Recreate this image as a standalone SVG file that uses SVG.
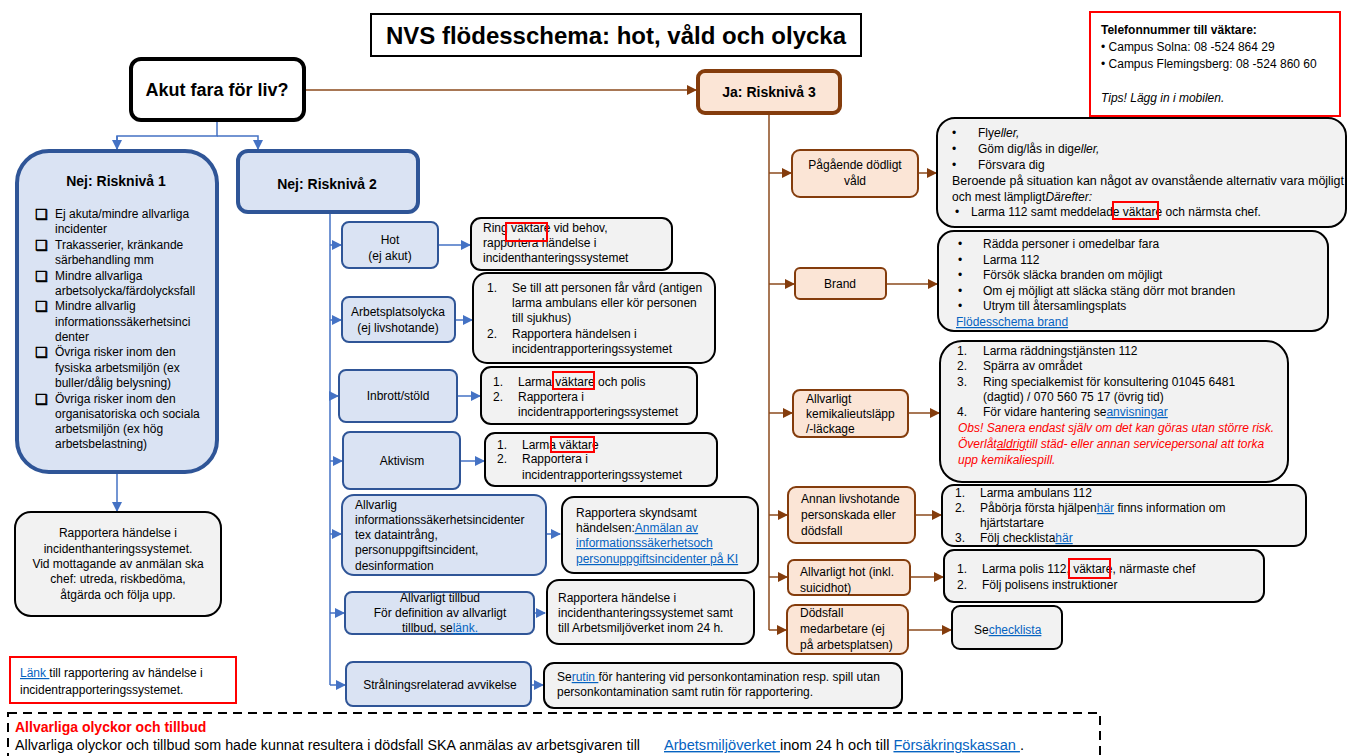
<svg xmlns="http://www.w3.org/2000/svg" width="1363" height="756" viewBox="0 0 1363 756">
<style>
text{font-family:"Liberation Sans",Arial,sans-serif;font-size:12px;fill:#000}
.b{font-weight:bold}
.c{text-anchor:middle}
.lnk{fill:#0563c1;text-decoration:underline}
.it{font-style:italic}
.red{fill:#ff0000}
.bl1{fill:#dae3f3;stroke:#2f5597;stroke-width:4}
.bl2{fill:#dae3f3;stroke:#2f5597;stroke-width:2}
.br1{fill:#fbe5d6;stroke:#843c0c;stroke-width:4}
.br2{fill:#fbe5d6;stroke:#843c0c;stroke-width:2}
.gr{fill:#f2f2f2;stroke:#000;stroke-width:2}
.rr{fill:none;stroke:#ff0000;stroke-width:2}
.cb{stroke:#4472c4;stroke-width:1.5;fill:none}
.cr{stroke:#8b4a1c;stroke-width:1.5;fill:none}
.chk{font-family:"DejaVu Sans",sans-serif;font-size:14px;font-weight:bold;stroke:#000;stroke-width:0.6}
</style>
<defs>
<marker id="ab" markerWidth="10" markerHeight="10" refX="9" refY="5" orient="auto" markerUnits="userSpaceOnUse"><path d="M0,0 L10,5 L0,10 Z" fill="#4472c4"/></marker>
<marker id="ar" markerWidth="10" markerHeight="10" refX="9" refY="5" orient="auto" markerUnits="userSpaceOnUse"><path d="M0,0 L10,5 L0,10 Z" fill="#843c0c"/></marker>
</defs>
<rect width="1363" height="756" fill="#fff"/>

<g id="connectors">
<path class="cr" d="M304,90 H696" marker-end="url(#ar)"/>
<path class="cb" d="M217,120 V136 H117 V149"/>
<path class="cb" d="M117,136 V149" marker-end="url(#ab)"/>
<path class="cb" d="M217,136 H258 V149" marker-end="url(#ab)"/>
<path class="cb" d="M117,473 V511" marker-end="url(#ab)"/>
<path class="cb" d="M330,212 V685"/>
<path class="cb" d="M330,245 H341" marker-end="url(#ab)"/>
<path class="cb" d="M330,320 H341" marker-end="url(#ab)"/>
<path class="cb" d="M330,396 H338" marker-end="url(#ab)"/>
<path class="cb" d="M330,461 H342" marker-end="url(#ab)"/>
<path class="cb" d="M330,534 H341" marker-end="url(#ab)"/>
<path class="cb" d="M330,613 H344" marker-end="url(#ab)"/>
<path class="cb" d="M330,685 H345" marker-end="url(#ab)"/>
<path class="cb" d="M438,245 H470" marker-end="url(#ab)"/>
<path class="cb" d="M455,320 H472" marker-end="url(#ab)"/>
<path class="cb" d="M457,396 H480" marker-end="url(#ab)"/>
<path class="cb" d="M460,461 H484" marker-end="url(#ab)"/>
<path class="cb" d="M546,534 H560" marker-end="url(#ab)"/>
<path class="cb" d="M534,613 H545" marker-end="url(#ab)"/>
<path class="cb" d="M531,685 H543" marker-end="url(#ab)"/>
<path class="cr" d="M769,113 V630"/>
<path class="cr" d="M769,173 H791" marker-end="url(#ar)"/>
<path class="cr" d="M769,284 H794" marker-end="url(#ar)"/>
<path class="cr" d="M769,413 H792" marker-end="url(#ar)"/>
<path class="cr" d="M769,515 H787" marker-end="url(#ar)"/>
<path class="cr" d="M769,577 H787" marker-end="url(#ar)"/>
<path class="cr" d="M769,630 H786" marker-end="url(#ar)"/>
<path class="cr" d="M918,173 H936" marker-end="url(#ar)"/>
<path class="cr" d="M886,284 H937" marker-end="url(#ar)"/>
<path class="cr" d="M908,413 H939" marker-end="url(#ar)"/>
<path class="cr" d="M915,515 H941" marker-end="url(#ar)"/>
<path class="cr" d="M910,577 H943" marker-end="url(#ar)"/>
<path class="cr" d="M908,630 H951" marker-end="url(#ar)"/>
</g>

<g id="title">
<rect x="371" y="14" width="490" height="42" fill="#fff" stroke="#000" stroke-width="2"/>
<text x="616" y="44" class="b c" style="font-size:24px">NVS flödesschema: hot, våld och olycka</text>
</g>

<g id="phones">
<rect x="1090" y="12" width="250" height="104" fill="#fff" stroke="#ff0000" stroke-width="2"/>
<text x="1101" y="34" class="b" style="font-size:12px">Telefonnummer till väktare:</text>
<text x="1101" y="51" style="font-size:12px">• Campus Solna: 08  -524 864 29</text>
<text x="1101" y="68" style="font-size:12px">• Campus Flemingsberg: 08  -524 860 60</text>
<text x="1101" y="102" class="it" style="font-size:12px">Tips! Lägg in i mobilen.</text>
</g>

<g id="akut">
<rect x="131" y="59" width="173" height="61" rx="10" fill="#fff" stroke="#000" stroke-width="4"/>
<text x="217" y="96" class="b c" style="font-size:18px">Akut fara för liv?</text>
</g>

<g id="ja3">
<rect x="698" y="71" width="142" height="42" rx="7" class="br1"/>
<text x="769" y="97" class="b c" style="font-size:14px">Ja: Risknivå 3</text>
</g>

<g id="nej1">
<rect x="17" y="151" width="200" height="321" rx="32" class="bl1"/>
<text x="116" y="186" class="b c" style="font-size:14px">Nej: Risknivå 1</text>
<text x="35" y="219" class="chk">❑</text><text x="55" y="218">Ej akuta/mindre allvarliga</text>
<text x="55" y="233">incidenter</text>
<text x="35" y="250" class="chk">❑</text><text x="55" y="249">Trakasserier, kränkande</text>
<text x="55" y="264">särbehandling mm</text>
<text x="35" y="281" class="chk">❑</text><text x="55" y="280">Mindre allvarliga</text>
<text x="55" y="295">arbetsolycka/färdolycksfall</text>
<text x="35" y="311" class="chk">❑</text><text x="55" y="310">Mindre allvarlig</text>
<text x="55" y="326">informationssäkerhetsinci</text>
<text x="55" y="341">denter</text>
<text x="35" y="357" class="chk">❑</text><text x="55" y="356">Övriga risker inom den</text>
<text x="55" y="372">fysiska arbetsmiljön (ex</text>
<text x="55" y="387">buller/dålig belysning)</text>
<text x="35" y="404" class="chk">❑</text><text x="55" y="403">Övriga risker inom den</text>
<text x="55" y="418">organisatoriska och sociala</text>
<text x="55" y="433">arbetsmiljön (ex hög</text>
<text x="55" y="448">arbetsbelastning)</text>
</g>

<g id="rapportera1">
<rect x="15" y="512" width="206" height="104" rx="16" class="gr"/>
<text x="118" y="537" class="c">Rapportera händelse i</text>
<text x="118" y="553" class="c">incidenthanteringssystemet.</text>
<text x="118" y="568" class="c">Vid mottagande av anmälan ska</text>
<text x="118" y="583" class="c">chef: utreda, riskbedöma,</text>
<text x="118" y="599" class="c">åtgärda och följa upp.</text>
</g>

<g id="lank">
<rect x="10" y="657" width="226" height="46" fill="#fff" stroke="#ff0000" stroke-width="2"/>
<text x="20" y="677"><tspan class="lnk">Länk </tspan> till rapportering av händelse i</text>
<text x="20" y="694">incidentrapporteringssystemet.</text>
</g>

<g id="nej2">
<rect x="238" y="151" width="180" height="61" rx="10" class="bl1"/>
<text x="327" y="189" class="b c" style="font-size:14px">Nej: Risknivå 2</text>
</g>

<g id="hot">
<rect x="342" y="222" width="96" height="46" rx="7" class="bl2"/>
<text x="390" y="244" class="c">Hot</text>
<text x="390" y="260" class="c">(ej akut)</text>
</g>
<g id="hot-r">
<rect x="471" y="218" width="201" height="52" rx="10" class="gr"/>
<text x="483" y="232">Ring väktare vid behov,</text>
<text x="483" y="247">rapportera händelse i</text>
<text x="483" y="262">incidenthanteringssystemet</text>
<rect x="506" y="223" width="41" height="18" class="rr"/>
</g>

<g id="arbetsplats">
<rect x="342" y="297" width="113" height="45" rx="7" class="bl2"/>
<text x="398" y="316" class="c">Arbetsplatsolycka</text>
<text x="398" y="332" class="c">(ej livshotande)</text>
</g>
<g id="arbetsplats-r">
<rect x="473" y="273" width="242" height="90" rx="14" class="gr"/>
<text x="487" y="292">1.</text><text x="512" y="292">Se till att personen får vård (antigen</text>
<text x="512" y="307">larma ambulans eller kör personen</text>
<text x="512" y="322">till sjukhus)</text>
<text x="487" y="338">2.</text><text x="512" y="338">Rapportera händelsen i</text>
<text x="512" y="353">incidentrapporteringssystemet</text>
</g>

<g id="inbrott">
<rect x="339" y="370" width="118" height="52" rx="7" class="bl2"/>
<text x="398" y="400" class="c">Inbrott/stöld</text>
</g>
<g id="inbrott-r">
<rect x="481" y="367" width="216" height="57" rx="10" class="gr"/>
<text x="493" y="386">1.</text><text x="518" y="386">Larma väktare och polis</text>
<text x="493" y="401">2.</text><text x="518" y="401">Rapportera i</text>
<text x="518" y="416">incidentrapporteringssystemet</text>
<rect x="553" y="372" width="41" height="17" class="rr"/>
</g>

<g id="aktivism">
<rect x="343" y="432" width="117" height="57" rx="7" class="bl2"/>
<text x="402" y="465" class="c">Aktivism</text>
</g>
<g id="aktivism-r">
<rect x="485" y="433" width="232" height="53" rx="10" class="gr"/>
<text x="497" y="449">1.</text><text x="522" y="449">Larma väktare</text>
<text x="497" y="463">2.</text><text x="522" y="463">Rapportera i</text>
<text x="522" y="479">incidentrapporteringssystemet</text>
<rect x="551" y="437" width="43" height="15" class="rr"/>
</g>

<g id="info">
<rect x="342" y="495" width="204" height="80" rx="12" class="bl2"/>
<text x="355" y="509">Allvarlig</text>
<text x="355" y="524">informationssäkerhetsincidenter</text>
<text x="355" y="539">tex dataintrång,</text>
<text x="355" y="554">personuppgiftsincident,</text>
<text x="355" y="570">desinformation</text>
</g>
<g id="info-r">
<rect x="562" y="497" width="196" height="76" rx="12" class="gr"/>
<text x="576" y="517">Rapportera skyndsamt</text>
<text x="576" y="532">händelsen:<tspan class="lnk">Anmälan av</tspan></text>
<text x="576" y="547" class="lnk">informationssäkerhetsoch</text>
<text x="576" y="563" class="lnk">personuppgiftsincidenter på KI</text>
</g>

<g id="tillbud">
<rect x="345" y="592" width="189" height="42" rx="7" class="bl2"/>
<text x="440" y="602" class="c">Allvarligt tillbud</text>
<text x="440" y="617" class="c">För definition av allvarligt</text>
<text x="440" y="632" class="c">tillbud, se<tspan class="lnk">länk.</tspan></text>
</g>
<g id="tillbud-r">
<rect x="547" y="580" width="207" height="64" rx="12" class="gr"/>
<text x="558" y="602">Rapportera händelse i</text>
<text x="558" y="617">incidenthanteringssystemet samt</text>
<text x="558" y="632">till Arbetsmiljöverket inom 24 h.</text>
</g>

<g id="straln">
<rect x="346" y="662" width="185" height="44" rx="7" class="bl2"/>
<text x="440" y="689" class="c">Strålningsrelaterad avvikelse</text>
</g>
<g id="straln-r">
<rect x="544" y="663" width="358" height="45" rx="10" class="gr"/>
<text x="557" y="681">Se<tspan class="lnk">rutin </tspan>för hantering vid personkontamination resp. spill utan</text>
<text x="557" y="696">personkontamination samt rutin för rapportering.</text>
</g>

<g id="pagaende">
<rect x="792" y="150" width="126" height="47" rx="8" class="br2"/>
<text x="855" y="169" class="c">Pågående dödligt</text>
<text x="855" y="185" class="c">våld</text>
</g>
<g id="pagaende-r">
<rect x="937" y="118" width="409" height="109" rx="18" class="gr"/>
<text x="952" y="137">•</text><text x="978" y="137">Fly<tspan class="it">eller,</tspan></text>
<text x="952" y="153">•</text><text x="978" y="153">Göm dig/lås in dig<tspan class="it">eller,</tspan></text>
<text x="952" y="169">•</text><text x="978" y="169">Försvara dig</text>
<text x="952" y="185" textLength="392" lengthAdjust="spacingAndGlyphs">Beroende på situation kan något av ovanstående alternativ vara möjligt</text>
<text x="952" y="201">och mest lämpligt<tspan class="it">Därefter:</tspan></text>
<text x="955" y="216">•</text><text x="971" y="216">Larma 112 samt meddelade väktare och närmsta chef.</text>
<rect x="1113" y="202" width="45" height="17" class="rr"/>
</g>

<g id="brand">
<rect x="795" y="268" width="91" height="31" rx="5" class="br2"/>
<text x="840" y="288" class="c">Brand</text>
</g>
<g id="brand-r">
<rect x="938" y="231" width="390" height="100" rx="16" class="gr"/>
<text x="958" y="248">•</text><text x="983" y="248">Rädda personer i omedelbar fara</text>
<text x="958" y="264">•</text><text x="983" y="264">Larma 112</text>
<text x="958" y="279">•</text><text x="983" y="279">Försök släcka branden om möjligt</text>
<text x="958" y="295">•</text><text x="983" y="295">Om ej möjligt att släcka stäng dörr mot branden</text>
<text x="958" y="310">•</text><text x="983" y="310">Utrym till återsamlingsplats</text>
<text x="956" y="326" class="lnk">Flödesschema brand</text>
</g>

<g id="kemikalie">
<rect x="793" y="390" width="115" height="47" rx="7" class="br2"/>
<text x="806" y="403">Allvarligt</text>
<text x="806" y="418">kemikalieutsläpp</text>
<text x="806" y="433">/-läckage</text>
</g>
<g id="kemikalie-r">
<rect x="940" y="341" width="348" height="141" rx="22" class="gr"/>
<text x="957" y="355">1.</text><text x="983" y="355">Larma räddningstjänsten 112</text>
<text x="957" y="370">2.</text><text x="983" y="370">Spärra av området</text>
<text x="957" y="386">3.</text><text x="983" y="386">Ring specialkemist för konsultering 01045 6481</text>
<text x="983" y="401">(dagtid) / 070 560 75 17 (övrig tid)</text>
<text x="957" y="416">4.</text><text x="983" y="416">För vidare hantering se<tspan class="lnk">anvisningar</tspan></text>
<text x="958" y="432" class="it red">Obs! Sanera endast själv om det kan göras utan större risk.</text>
<text x="958" y="448" class="it red">Överlåt<tspan style="text-decoration:underline">aldrig</tspan>till städ- eller annan servicepersonal att torka</text>
<text x="958" y="464" class="it red">upp kemikaliespill.</text>
</g>

<g id="annan">
<rect x="788" y="487" width="127" height="56" rx="8" class="br2"/>
<text x="801" y="503">Annan livshotande</text>
<text x="801" y="519">personskada eller</text>
<text x="801" y="535">dödsfall</text>
</g>
<g id="annan-r">
<rect x="942" y="485" width="364" height="61" rx="12" class="gr"/>
<text x="955" y="497">1.</text><text x="980" y="497">Larma ambulans 112</text>
<text x="955" y="512">2.</text><text x="980" y="512">Påbörja första hjälpen<tspan class="lnk">här</tspan> finns information om</text>
<text x="980" y="527">hjärtstartare</text>
<text x="955" y="542">3.</text><text x="980" y="542">Följ checklista<tspan class="lnk">här</tspan></text>
</g>

<g id="hot3">
<rect x="788" y="560" width="122" height="35" rx="6" class="br2"/>
<text x="800" y="576">Allvarligt hot (inkl.</text>
<text x="800" y="592">suicidhot)</text>
</g>
<g id="hot3-r">
<rect x="944" y="550" width="320" height="52" rx="10" class="gr"/>
<text x="957" y="573">1.</text><text x="982" y="573">Larma polis 112, väktare, närmaste chef</text>
<text x="957" y="589">2.</text><text x="982" y="589">Följ polisens instruktioner</text>
<rect x="1069" y="559" width="41" height="19" class="rr"/>
</g>

<g id="dodsfall">
<rect x="787" y="605" width="121" height="49" rx="8" class="br2"/>
<text x="800" y="617">Dödsfall</text>
<text x="800" y="633">medarbetare (ej</text>
<text x="800" y="649">på arbetsplatsen)</text>
</g>
<g id="dodsfall-r">
<rect x="952" y="606" width="110" height="43" rx="8" class="gr"/>
<text x="974" y="634">Se<tspan class="lnk">checklista</tspan></text>
</g>

<g id="allvarliga">
<rect x="8" y="713" width="1092" height="50" fill="none" stroke="#000" stroke-width="2" stroke-dasharray="9,6"/>
<text x="15" y="732" class="b red" style="font-size:14px">Allvarliga olyckor och tillbud</text>
<text x="15" y="750" style="font-size:14px" textLength="625" lengthAdjust="spacingAndGlyphs">Allvarliga olyckor och tillbud som hade kunnat resultera i dödsfall SKA anmälas av arbetsgivaren till</text>
<text x="664" y="750" style="font-size:14px" textLength="360" lengthAdjust="spacingAndGlyphs"><tspan class="lnk">Arbetsmiljöverket </tspan> inom 24 h och till <tspan class="lnk">Försäkringskassan </tspan> .</text>
</g>
</svg>
